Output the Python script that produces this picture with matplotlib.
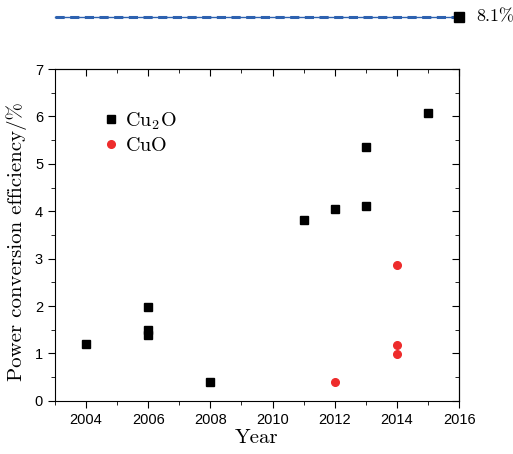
import matplotlib
matplotlib.use("Agg")
import matplotlib.pyplot as plt
from matplotlib.ticker import MultipleLocator

plt.rcParams["mathtext.fontset"] = "cm"

cu2o_year = [2004, 2006, 2006, 2006, 2008, 2011, 2012, 2013, 2013, 2015]
cu2o_eff = [1.19, 1.97, 1.50, 1.39, 0.39, 3.81, 4.05, 5.35, 4.10, 6.07]
cuo_year = [2012, 2014, 2014, 2014]
cuo_eff = [0.40, 2.87, 1.18, 0.98]
top_year = 2016
top_eff = 8.1

RED = "#ee2c2c"
BLUE = "#2e62b0"
SERIF = "cmr10"

fig = plt.figure(figsize=(5.13, 4.54), dpi=100)
ax = fig.add_axes([0.107, 0.117, 0.788, 0.731])

ax.plot(cu2o_year, cu2o_eff, "s", color="black", ms=6, label=r"$\mathrm{Cu_2O}$")
ax.plot(cuo_year, cuo_eff, "o", color=RED, ms=5.5, label=r"$\mathrm{CuO}$")

# record value drawn above the frame
ax.plot([2003, top_year], [top_eff, top_eff], "-", color=BLUE, lw=1, clip_on=False)
ax.plot([2003, top_year], [top_eff, top_eff], "--", color=BLUE, lw=2.2,
        dashes=(3, 1.8), clip_on=False)
ax.plot([top_year], [top_eff], "s", color="black", ms=7, clip_on=False, zorder=5)
ax.text(2016.55, top_eff, "8.1%", fontsize=13, family=SERIF, va="center",
        ha="left", clip_on=False)

ax.set_xlim(2003, 2016)
ax.set_ylim(0, 7)
ax.xaxis.set_major_locator(MultipleLocator(2))
ax.xaxis.set_minor_locator(MultipleLocator(1))
ax.yaxis.set_major_locator(MultipleLocator(1))
ax.yaxis.set_minor_locator(MultipleLocator(0.5))

ax.tick_params(which="both", direction="out", top=False, right=False)
ax.tick_params(which="major", length=5, labelsize=10.5)
ax.tick_params(which="minor", length=3)
for lab in ax.get_xticklabels() + ax.get_yticklabels():
    lab.set_family("Liberation Sans")

# inward ticks on top and right
ax2 = ax.secondary_xaxis("top")
ax2.xaxis.set_major_locator(MultipleLocator(2))
ax2.xaxis.set_minor_locator(MultipleLocator(1))
ax2.tick_params(which="both", direction="in", labeltop=False)
ax2.tick_params(which="major", length=5)
ax2.tick_params(which="minor", length=3)
ax3 = ax.secondary_yaxis("right")
ax3.yaxis.set_major_locator(MultipleLocator(1))
ax3.yaxis.set_minor_locator(MultipleLocator(0.5))
ax3.tick_params(which="both", direction="in", labelright=False)
ax3.tick_params(which="major", length=5)
ax3.tick_params(which="minor", length=3)

ax.set_xlabel("Year", fontsize=15, family=SERIF, labelpad=2)
ax.set_ylabel("Power conversion efficiency/%", fontsize=15, family=SERIF)
ax.yaxis.set_label_coords(-0.068, 0.48)

ax.legend(loc="upper left", bbox_to_anchor=(0.07, 0.93), frameon=False,
          fontsize=14.5, handletextpad=0.2, labelspacing=0.2, handlelength=1)

fig.savefig("out.png", dpi=100)
